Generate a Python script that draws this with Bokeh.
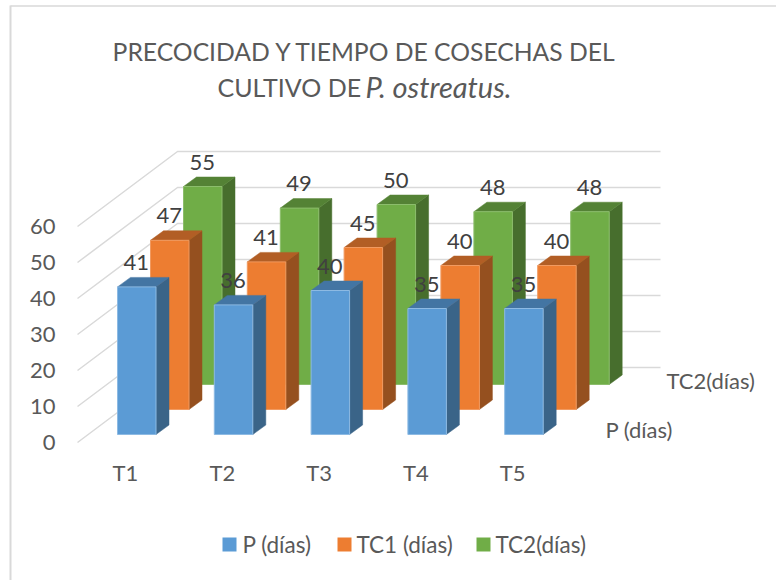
from bokeh.plotting import figure
from bokeh.embed import file_html
from bokeh.resources import INLINE
from bokeh.core.properties import value

categories = ["T1", "T2", "T3", "T4", "T5"]
series_names = ["P (días)", "TC1 (días)", "TC2(días)"]
p_dias = [41, 36, 40, 35, 35]
tc1_dias = [47, 41, 45, 40, 40]
tc2_dias = [55, 49, 50, 48, 48]
y_ticks = [0, 10, 20, 30, 40, 50, 60]

FONT = value("Lato")
TXT = "#595959"
LBL = "#404040"
front = ["#5B9BD5", "#ED7D31", "#70AD47"]
side = ["#3A6488", "#95501F", "#476E2D"]
top = ["#4375A3", "#B25E25", "#548235"]
edge = ["#8DBAE3", "#F19A60", "#8CBD6C"]

PX_PER_UNIT = 3.6
BAR_W = 38.5
CAT_STEP = 96.8
X0, Y0 = 117, 434
SER_DX, SER_DY = 33, -25
TOP_DX, TOP_DY = 13, -9.5

W, H = 776, 580
p = figure(width=W, height=H, x_range=(0, W), y_range=(H, 0), output_backend="svg",
           toolbar_location=None, min_border=0, margin=(-8, 0, 0, -8),
           x_axis_type=None, y_axis_type=None, styles={"position": "absolute", "left": "8px", "top": "8px"})
p.xgrid.visible = False
p.ygrid.visible = False
p.outline_line_color = None
p.background_fill_color = "white"
p.border_fill_color = "white"

# outer frame
p.line([10, 10], [5, H], line_color="#D9D9D9", line_width=2)
p.line([10, W], [5.5, 5.5], line_color="#D9D9D9", line_width=1.5)

# gridlines of the back and side walls
for t in y_ticks:
    h = t * PX_PER_UNIT
    p.line([77, 177, 660], [442 - h, 367 - h, 367 - h], line_color="#D9D9D9", line_width=1.5)

# axis text
p.text([55] * len(y_ticks), [442 - t * PX_PER_UNIT for t in y_ticks], text=[str(t) for t in y_ticks],
       text_font=FONT, text_font_size="22px", text_color=TXT, text_align="right", text_baseline="middle")
p.text([X0 + 8 + i * CAT_STEP for i in range(5)], [471.5] * 5, text=categories, text_font=FONT,
       text_font_size="22px", text_color=TXT, text_align="center", text_baseline="middle")
p.text([605, 666], [428.5, 379.5], text=[series_names[0], series_names[2]], text_font=FONT,
       text_font_size="22px", text_color=TXT, text_baseline="middle")

# bars, back to front
all_series = [p_dias, tc1_dias, tc2_dias]
labels = []
for s in (2, 1, 0):
    for i, v in enumerate(all_series[s]):
        x = X0 + i * CAT_STEP + s * SER_DX
        b = Y0 + s * SER_DY
        t = b - v * PX_PER_UNIT
        p.patch([x + BAR_W, x + BAR_W + TOP_DX, x + BAR_W + TOP_DX, x + BAR_W],
                [b, b + TOP_DY, t + TOP_DY, t], fill_color=side[s], line_color=side[s], line_width=0.5)
        p.patch([x, x + TOP_DX, x + BAR_W + TOP_DX, x + BAR_W],
                [t, t + TOP_DY, t + TOP_DY, t], fill_color=top[s], line_color=top[s], line_width=0.5)
        p.patch([x, x + BAR_W, x + BAR_W, x], [b, b, t, t], fill_color=front[s],
                line_color=edge[s], line_width=1)
        labels.append((x + BAR_W / 2 - 0.5, t - 24.5, str(v)))

p.text([l[0] for l in labels], [l[1] for l in labels], text=[l[2] for l in labels], text_font=FONT,
       text_font_size="22px", text_color=LBL, text_align="center", text_baseline="middle")

# title
p.text([364.5], [51], text=["PRECOCIDAD Y TIEMPO DE COSECHAS DEL"], text_font=FONT, text_font_size="24.7px",
       text_color=TXT, text_align="center", text_baseline="middle")
p.text([217], [86], text=["CULTIVO DE "], text_font=FONT, text_font_size="25px", text_color=TXT,
       text_baseline="middle")
p.text([365], [86], text=["P. ostreatus."], text_font=FONT, text_font_size="29px", text_font_style="italic",
       text_color=TXT, text_baseline="middle")

# legend
for sx, tx, c, n in zip([222, 337, 476], [242, 356, 495], front, series_names):
    p.rect([sx + 7], [544], width=14, height=14, fill_color=c, line_color=None)
    p.text([tx], [543.5], text=[n], text_font=FONT, text_font_size="22.5px", text_color=TXT, text_baseline="middle")

open("out.html", "w").write(file_html(p, INLINE))
